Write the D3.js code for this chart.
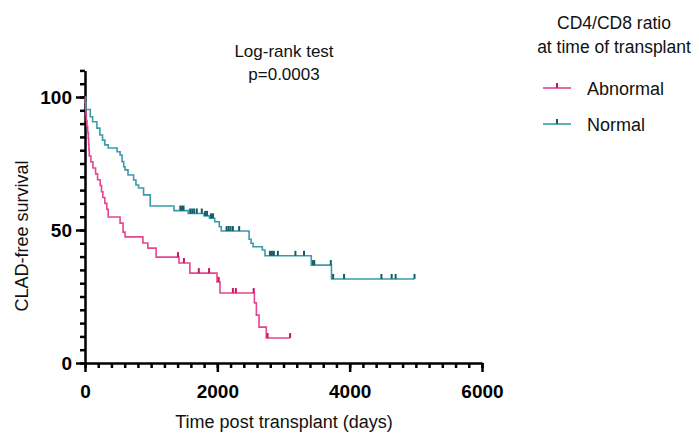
<!DOCTYPE html>
<meta charset="utf-8">
<style>
body { margin: 0; background: #fff; }
text { font-family: "Liberation Sans", Arial, sans-serif; fill: #111; }
.axis path, .axis line { stroke: #000; }
.axis text { font-weight: bold; font-size: 19px; fill: #000; }
</style>
<svg width="699" height="435"></svg>
<script src="https://cdn.jsdelivr.net/npm/d3@7"></script>
<script>

// step events [days, survival %]
var abnormalSteps = [[0,100],[5,97.8],[10,95.6],[15,93.3],[20,91.1],[30,88.9],[40,86.7],[50,84.4],[55,82.2],[60,80],[65,77.8],
  [90,75.6],[120,73.3],[160,71.1],[190,68.9],[230,66.7],[250,64.4],[270,62.2],[300,60],[330,57.8],[350,54.9],
  [530,52.6],[575,49.2],[605,47.4],[875,45.1],[950,43.2],[1075,39.8],[1420,37.6],[1585,33.8],[1995,30.5],
  [2040,26.3],[2560,22.6],[2590,18],[2630,13.5],[2740,9.4]];
var abnormalEnd = 3100;
var abnormalCensor = [1405,1495,1720,1875,2020,2235,2280,2550,2760,3100];

var normalSteps = [[0,100],[10,97.7],[15,95.3],[80,92.6],[115,90.7],[180,88.3],[225,85.7],[265,83.8],[300,82],[350,80.8],
  [485,79.4],[530,78.2],[560,75.7],[585,73.8],[605,72.6],[650,70.7],[735,68.8],[770,66.9],[810,65.8],[885,63.2],
  [985,59],[1345,57.3],[1560,56.2],[1800,55.3],[1880,54.4],[1960,53.1],[2030,51.2],[2060,49.6],[2480,46.5],
  [2510,45],[2540,43.7],[2680,42.5],[2720,40.3],[3420,36.8],[3725,31.6]];
var normalEnd = 4980;
var normalCensor = [1440,1465,1490,1590,1620,1650,1690,1765,1815,1845,1905,1935,2140,2170,2200,2235,2330,
  2795,2825,2855,2915,3180,3310,3445,3465,3715,3750,3915,4480,4635,4695,4980];

var xMajor = [0,2000,4000,6000];
var yMajor = [0,50,100];
var groups = ["Abnormal","Normal"];

var svg = d3.select("svg");

var x = d3.scaleLinear().domain([0,6000]).range([85,482]);
var y = d3.scaleLinear().domain([0,110]).range([363,70.4]);

var series = [
  {name:"Abnormal", steps:abnormalSteps, end:abnormalEnd, censor:abnormalCensor, line:"#e6458f", mark:"#c8146a"},
  {name:"Normal", steps:normalSteps, end:normalEnd, censor:normalCensor, line:"#3a9bab", mark:"#145c6a"}
];

function valueAt(steps, t) {
  var v = steps[0][1];
  steps.forEach(function(s){ if (s[0] <= t) v = s[1]; });
  return v;
}

var line = d3.line()
    .x(function(d){ return x(d[0]); })
    .y(function(d){ return y(d[1]); })
    .curve(d3.curveStepAfter);

// axes
var gx = svg.append("g").attr("class","axis").attr("transform","translate(0,363)");
gx.call(d3.axisBottom(x).tickValues(d3.range(0,6001,200)).tickSize(5).tickSizeOuter(0).tickFormat(""));
gx.call(function(g){ g.selectAll("path, line").attr("stroke-width",2.5); });
var gx2 = svg.append("g").attr("class","axis").attr("transform","translate(0,363)");
gx2.call(d3.axisBottom(x).tickValues(xMajor).tickSize(9).tickSizeOuter(0).tickPadding(13).tickFormat(d3.format("d")));
gx2.select(".domain").remove();
gx2.selectAll("line").attr("stroke-width",2.5);

var gy = svg.append("g").attr("class","axis").attr("transform","translate(85,0)");
gy.call(d3.axisLeft(y).tickValues(d3.range(0,111,5)).tickSize(5).tickSizeOuter(0).tickFormat(""));
gy.selectAll("path, line").attr("stroke-width",2.5);
var gy2 = svg.append("g").attr("class","axis").attr("transform","translate(85,0)");
gy2.call(d3.axisLeft(y).tickValues(yMajor).tickSize(9).tickSizeOuter(0).tickPadding(4).tickFormat(d3.format("d")));
gy2.select(".domain").remove();
gy2.selectAll("line").attr("stroke-width",2.5);

// curves
series.forEach(function(s){
  var pts = s.steps.concat([[s.end, s.steps[s.steps.length-1][1]]]);
  svg.append("path")
      .datum(pts)
      .attr("fill","none")
      .attr("stroke",s.line)
      .attr("stroke-width",1.6)
      .attr("d",line);
  svg.append("g").selectAll("line")
      .data(s.censor)
    .enter().append("line")
      .attr("x1",function(t){ return x(t); })
      .attr("x2",function(t){ return x(t); })
      .attr("y1",function(t){ return y(valueAt(s.steps,t)); })
      .attr("y2",function(t){ return y(valueAt(s.steps,t)) - 5; })
      .attr("stroke",s.mark)
      .attr("stroke-width",2);
});

// titles
svg.append("text").attr("x",284).attr("y",57).attr("text-anchor","middle").style("font-size","17px").text("Log-rank test");
svg.append("text").attr("x",284).attr("y",80).attr("text-anchor","middle").style("font-size","17px").text("p=0.0003");
svg.append("text").attr("x",284).attr("y",428).attr("text-anchor","middle").style("font-size","18px").text("Time post transplant (days)");
svg.append("text").attr("transform","translate(28,236) rotate(-90)").attr("text-anchor","middle").style("font-size","18px").text("CLAD-free survival");

// legend
svg.append("text").attr("x",614).attr("y",29).attr("text-anchor","middle").style("font-size","17.5px").text("CD4/CD8 ratio");
svg.append("text").attr("x",614).attr("y",53).attr("text-anchor","middle").style("font-size","17.5px").text("at time of transplant");

var leg = svg.append("g").selectAll("g")
    .data(series)
  .enter().append("g")
    .attr("transform",function(d,i){ return "translate(0," + (88 + i*36) + ")"; });
leg.append("line").attr("x1",543).attr("x2",571).attr("y1",0).attr("y2",0)
    .attr("stroke",function(d){ return d.line; }).attr("stroke-width",1.6);
leg.append("line").attr("x1",557).attr("x2",557).attr("y1",0).attr("y2",-5)
    .attr("stroke",function(d){ return d.mark; }).attr("stroke-width",2);
leg.append("text").attr("x",587).attr("y",7).style("font-size","18px")
    .text(function(d,i){ return groups[i]; });

</script>
